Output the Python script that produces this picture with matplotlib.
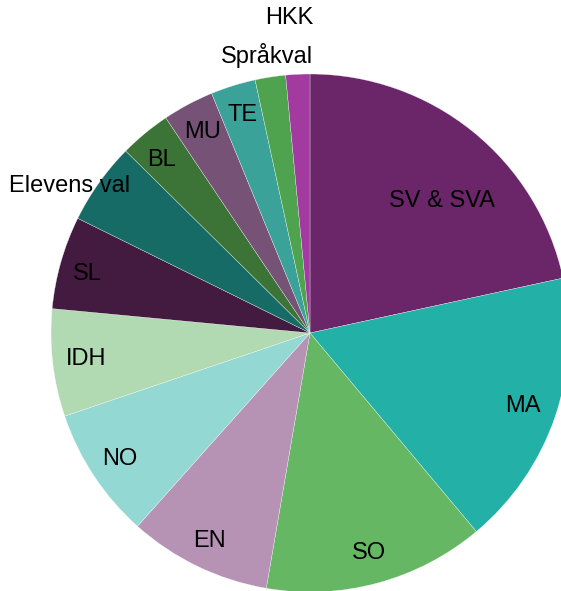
import numpy as np
import matplotlib
matplotlib.use("Agg")
import matplotlib.pyplot as plt

# time share per subject (percent)
subjects = ["SV & SVA", "MA", "SO", "EN", "NO", "IDH", "SL",
            "Elevens val", "BL", "MU", "TE", "Språkval", "HKK"]
shares = [21.6, 17.3, 13.8, 8.9, 8.2, 6.7, 5.8, 5.1, 3.2, 3.2, 2.8, 1.9, 1.5]
colors = ["#6b2569", "#23b0a6", "#66b764", "#b693b5", "#93d8d2", "#b2dab2",
          "#431a40", "#166b66", "#3b7436", "#755276", "#3ba299", "#4fa34e",
          "#a23aa0"]
# label distance (fraction of radius) and small angle nudge per slice
label_dist = [0.72, 0.87, 0.88, 0.89, 0.88, 0.87, 0.89, 1.09, 0.88, 0.88, 0.88, 1.085, 1.22]
label_shift = [-6, 0, 0, 0, 0, 0, 1, 4, 1, 0, 0, 0, 1]

plt.rcParams["font.family"] = ["Liberation Sans", "DejaVu Sans"]

W, H = 561, 591
fig = plt.figure(figsize=(W / 100, H / 100), dpi=100)
ax = fig.add_axes([0, 0, 1, 1])

cx, cy, R = 310, H - 333, 259
wedges, _ = ax.pie(shares, colors=colors, startangle=90, counterclock=False,
                   center=(cx, cy), radius=R, frame=True,
                   wedgeprops=dict(edgecolor="white", linewidth=0.2))
ax.set_xlim(0, W)
ax.set_ylim(0, H)
ax.set_aspect("equal")
ax.axis("off")

for w, name, d, s in zip(wedges, subjects, label_dist, label_shift):
    mid = np.deg2rad((w.theta1 + w.theta2) / 2 + s)
    ax.text(cx + d * R * np.cos(mid), cy + d * R * np.sin(mid), name,
            ha="center", va="center", fontsize=17, color="black")

fig.savefig("out.png", dpi=100)
